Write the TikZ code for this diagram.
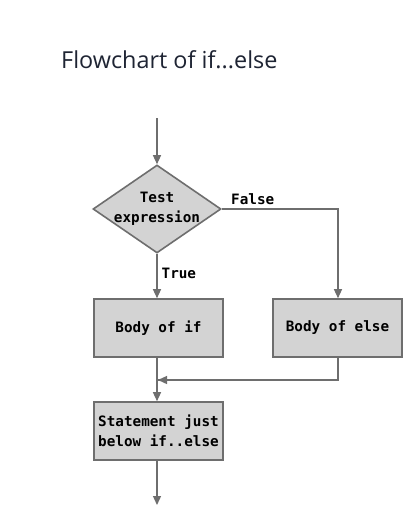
\documentclass[tikz,border=0pt]{standalone}
\usepackage{fontspec}
\setmainfont{Open Sans}
\newfontfamily\codefont{DejaVu Sans Mono}
\usetikzlibrary{shapes.geometric,arrows.meta}
\definecolor{linegray}{HTML}{6E6E6E}
\definecolor{boxfill}{HTML}{D3D3D3}
\definecolor{titlecol}{HTML}{1E2433}
\tikzset{
  flow/.style={draw=linegray, line width=1.3pt},
  arr/.style={flow, -{Triangle[length=9pt,width=8pt]}},
  blk/.style={draw=linegray, line width=1.6pt, fill=boxfill, minimum width=129pt, minimum height=58pt, inner sep=0pt, align=center, font=\codefont\bfseries\fontsize{14.3}{19.5}\selectfont},
  dec/.style={diamond, draw=linegray, line width=1.6pt, fill=boxfill, minimum width=128pt, minimum height=88pt, inner sep=-3.5pt, aspect=1.45, align=center, font=\codefont\bfseries\fontsize{14.3}{19.5}\selectfont},
  lbl/.style={font=\codefont\bfseries\fontsize{14.3}{16}\selectfont, text=black, inner sep=0pt}
}
\begin{document}
\begin{tikzpicture}[x=1pt,y=-1pt]
\useasboundingbox[fill=white] (0,0) rectangle (417,532);
\node[font=\fontsize{23.4}{28}\selectfont, text=titlecol, anchor=west, inner sep=0pt] (title) at (61,60) {Flowchart of if...else};
\coordinate (start) at (157,118);
\node[dec] (test) at (157,209) {Test\\expression};
\node[blk] (bif) at (158.5,328) {Body of if};
\node[blk] (belse) at (337.5,328) {Body of else};
\node[blk] (stmt) at (158.5,431) {Statement just\\below if..else};
\coordinate (end) at (157,505);
\coordinate (fcorner) at (338,209);
\coordinate (join) at (338,380);
\coordinate (merge) at (157,380);
\draw[arr] (start) -- (test.north);
\draw[arr] (test.south) -- (test.south |- bif.north) node[lbl, pos=0.45, anchor=west, xshift=4pt] (tlbl) {True};
\draw[arr] (test.east) -- (fcorner) -- (fcorner |- belse.north);
\node[lbl, anchor=west] (flbl) at (231,199) {False};
\draw[flow] (belse.south -| join) -- (join) -- (merge);
\draw[arr] (join) -- ([xshift=1pt]merge);
\draw[arr] (bif.south -| merge) -- (merge |- stmt.north);
\draw[arr] (stmt.south -| end) -- (end);
\end{tikzpicture}
\end{document}
